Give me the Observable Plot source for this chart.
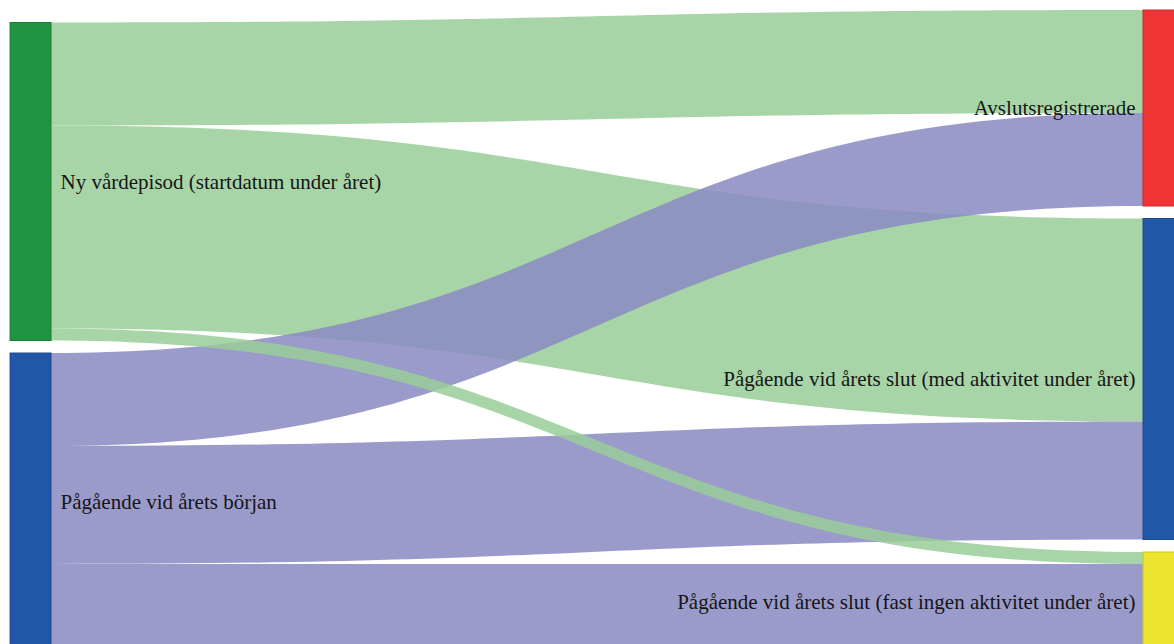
<!DOCTYPE html>
<html>
<head>
<meta charset="utf-8">
<script src="https://cdn.jsdelivr.net/npm/d3@7"></script>
<script src="https://cdn.jsdelivr.net/npm/@observablehq/plot@0.6"></script>
<style>
html, body { margin: 0; padding: 0; background: #fff; overflow: hidden; }
#chart svg { display: block; overflow: hidden; }
</style>
</head>
<body>
<div id="chart"></div>
<script>
// ---- Data ----
const sourceNodes = ["Ny vårdepisod (startdatum under året)", "Pågående vid årets början"];
const targetNodes = [
  "Avslutsregistrerade",
  "Pågående vid årets slut (med aktivitet under året)",
  "Pågående vid årets slut (fast ingen aktivitet under året)"
];
const linkSources = [0, 0, 0, 1, 1, 1];
const linkTargets = [0, 1, 2, 0, 1, 2];
const linkValues  = [103, 203, 12, 93, 118, 87];

const sourceColors = ["#219443", "#2256a7"];
const sourceStrokes = ["#1a7a37", "#1c4a92"];
const targetColors = ["#ee3434", "#2256a7", "#ebe52f"];
const targetStrokes = ["#c92a2a", "#1c4a92", "#c9c424"];
const linkColors   = ["#99ce99", "#8989c2"];

// ---- Sankey layout (in value units) ----
const pad = 12.5;
const nodeW = 0.0375;
const links = linkValues.map((v, i) => ({id: i, s: linkSources[i], t: linkTargets[i], value: v}));
const sTot = sourceNodes.map((_, i) => d3.sum(links.filter(l => l.s === i), l => l.value));
const tTot = targetNodes.map((_, i) => d3.sum(links.filter(l => l.t === i), l => l.value));
const colH = arr => d3.sum(arr) + pad * (arr.length - 1);
const H = Math.max(colH(sTot), colH(tTot));

function stackColumn(names, totals, col, colors, strokes) {
  let y = H - colH(totals);
  return names.map((name, i) => {
    const n = {name, col, y0: y, y1: y + totals[i], fill: colors[i], stroke: strokes[i]};
    y += totals[i] + pad;
    return n;
  });
}
const sNodes = stackColumn(sourceNodes, sTot, 0, sourceColors, sourceStrokes);
const tNodes = stackColumn(targetNodes, tTot, 1, targetColors, targetStrokes);
const nodes = [...sNodes, ...tNodes];

sNodes.forEach((n, i) => {
  let y = n.y0;
  links.filter(l => l.s === i).sort((a, b) => a.t - b.t).forEach(l => { l.sy0 = y; l.sy1 = y + l.value; y += l.value; });
});
tNodes.forEach((n, i) => {
  let y = n.y0;
  links.filter(l => l.t === i).sort((a, b) => a.s - b.s).forEach(l => { l.ty0 = y; l.ty1 = y + l.value; y += l.value; });
});

const linkRows = links.slice().sort((a, b) => b.value - a.value).flatMap(l => [
  {id: l.id, x: 0, y1: l.sy0, y2: l.sy1, color: linkColors[l.s]},
  {id: l.id, x: 1, y1: l.ty0, y2: l.ty1, color: linkColors[l.s]}
]);

const chart = Plot.plot({
  width: 1174,
  height: 644,
  margin: 0,
  style: {fontFamily: "'Liberation Serif', 'Times New Roman', serif", background: "#fff"},
  x: {domain: [0, 1], range: [51, 1143], axis: null},
  y: {domain: [0, H], range: [10, 10 + H], axis: null},
  marks: [
    Plot.areaY(linkRows, {x: "x", y1: "y1", y2: "y2", z: "id", fill: "color", fillOpacity: 0.85, curve: "bump-x"}),
    Plot.rect(nodes, {
      x1: d => d.col === 0 ? -nodeW : 1,
      x2: d => d.col === 0 ? 0 : 1 + nodeW,
      y1: "y0", y2: "y1",
      fill: "fill", stroke: "stroke", strokeWidth: 1
    }),
    Plot.text(sNodes, {
      x: 0,
      y: d => (d.y0 + d.y1) / 2,
      text: "name",
      textAnchor: "start",
      dx: 9,
      fontSize: 21,
      fill: "#151515"
    }),
    Plot.text(tNodes, {
      x: 1,
      y: d => (d.y0 + d.y1) / 2,
      text: "name",
      textAnchor: "end",
      dx: -8,
      fontSize: 21,
      fill: "#151515"
    })
  ]
});
document.getElementById("chart").append(chart);
</script>
</body>
</html>
